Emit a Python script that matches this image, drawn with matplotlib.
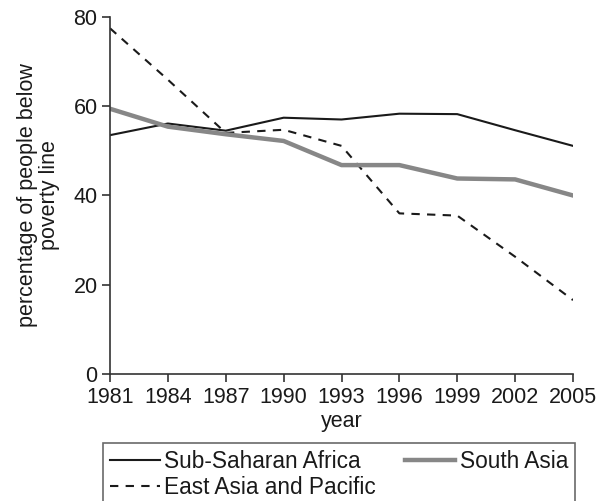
import numpy as np
import matplotlib
matplotlib.use("Agg")
import matplotlib.pyplot as plt

plt.rcParams['font.family'] = ['Liberation Sans', 'DejaVu Sans']

years = [1981, 1984, 1987, 1990, 1993, 1996, 1999, 2002, 2005]
sub_saharan = [53.5, 56.1, 54.5, 57.4, 57.0, 58.3, 58.2, 54.6, 51.1]
south_asia = [59.4, 55.4, 53.7, 52.2, 46.8, 46.8, 43.8, 43.6, 40.0]
east_asia = [77.4, 65.9, 54.0, 54.7, 51.1, 36.0, 35.5, 26.3, 16.6]
yticks = [0, 20, 40, 60, 80]

fs = 15.5      # axis text
fs_leg = 16.3  # legend text

fig = plt.figure(figsize=(5.96, 5.01), dpi=100)
ax = fig.add_axes([0.1846, 0.2529, 0.7768, 0.7138])

l1, = ax.plot(years, sub_saharan, color='#1a1a1a', lw=1.5,
              label='Sub-Saharan Africa')
l3, = ax.plot(years, east_asia, color='#1a1a1a', lw=1.5,
              linestyle=(0, (4, 3.5)), label='East Asia and Pacific')
l2, = ax.plot(years, south_asia, color='#878787', lw=3.2,
              label='South Asia')

ax.set_xlim(1981, 2005)
ax.set_ylim(0, 80)
ax.set_xticks(years)
ax.set_yticks(yticks)

ax.spines['right'].set_visible(False)
ax.spines['top'].set_visible(False)
for s in ['left', 'bottom']:
    ax.spines[s].set_color('#333333')
    ax.spines[s].set_linewidth(1.2)
ax.tick_params(direction='out', length=6, width=1.2, color='#333333',
               labelsize=fs, labelcolor='#1a1a1a', pad=3)

ax.set_xlabel('year', fontsize=fs, color='#1a1a1a', labelpad=2)
ax.set_ylabel('percentage of people below\npoverty line', fontsize=fs,
              color='#1a1a1a', labelpad=10, linespacing=1.05)

leg = fig.legend(handles=[l1, l3, l2], ncol=2, loc='upper left',
                 bbox_to_anchor=(103 / 596, 1 - 443 / 501),
                 bbox_transform=fig.transFigure, borderaxespad=0,
                 fontsize=fs_leg, frameon=True, fancybox=False,
                 handlelength=2.2, handletextpad=0.2, columnspacing=1.3,
                 labelspacing=0.15, borderpad=0.3)
leg.get_frame().set_edgecolor('#444444')
leg.get_frame().set_linewidth(1.2)
for t in leg.get_texts():
    t.set_color('#1a1a1a')

fig.savefig('out.png', dpi=100)
